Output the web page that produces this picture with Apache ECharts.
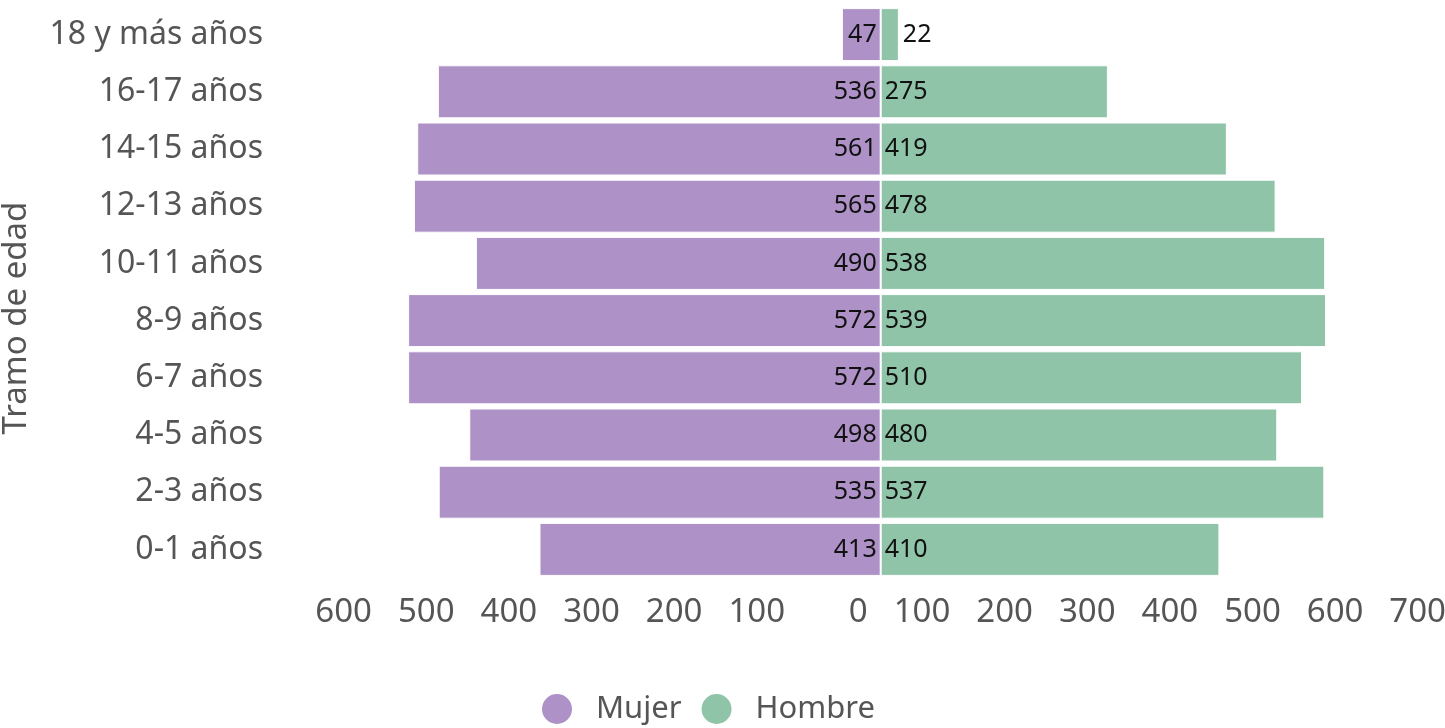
<!DOCTYPE html>
<html>
<head>
<meta charset="utf-8">
<script src="https://cdn.jsdelivr.net/npm/echarts@6/dist/echarts.min.js"></script>
<style>
  html, body { margin: 0; padding: 0; background: #fff; }
  #chart { width: 1445px; height: 728px; }
</style>
</head>
<body>
<div id="chart"></div>
<script>
// tramos de edad, de abajo hacia arriba
var categories = ["0-1 años", "2-3 años", "4-5 años", "6-7 años", "8-9 años",
  "10-11 años", "12-13 años", "14-15 años", "16-17 años", "18 y más años"];
var mujer = [413, 535, 498, 572, 572, 490, 565, 561, 536, 47];
var hombre = [410, 537, 480, 510, 539, 538, 478, 419, 275, 22];
var xTicks = { min: -600, max: 700, step: 100 };

var FONT = "'Noto Sans', sans-serif";
var chart = echarts.init(document.getElementById("chart"));

chart.setOption({
  textStyle: { fontFamily: FONT },
  grid: { left: 385, width: 1074, top: 6, height: 572, outerBoundsMode: "none", containLabel: false },
  legend: {
    top: 687,
    left: 535,
    icon: "circle",
    itemWidth: 32,
    itemHeight: 32,
    itemGap: 18,
    textStyle: { fontSize: 31, color: "#555", fontFamily: FONT, padding: [0, 0, 0, 18] },
    data: ["Mujer", "Hombre"]
  },
  xAxis: {
    type: "value",
    min: xTicks.min,
    max: xTicks.max,
    interval: xTicks.step,
    axisLine: { show: false },
    axisTick: { show: false },
    splitLine: { show: false },
    axisLabel: {
      fontSize: 33,
      color: "#555",
      margin: 18,
      align: "right",
      padding: [0, 13, 0, 0],
      formatter: function (v) { return Math.abs(v); }
    }
  },
  yAxis: {
    type: "category",
    data: categories,
    name: "Tramo de edad",
    nameLocation: "middle",
    nameGap: 352,
    nameTextStyle: { fontSize: 33, color: "#555", padding: [0, 52, 0, 0] },
    axisLine: { show: false },
    axisTick: { show: false },
    axisLabel: { fontSize: 32, color: "#555", margin: 122 }
  },
  series: [
    {
      name: "Mujer",
      type: "bar",
      stack: "pir",
      barWidth: 53,
      itemStyle: { color: "#ad91c7", borderColor: "#fff", borderWidth: 1 },
      label: {
        show: true,
        position: "insideRight",
        distance: 4,
        fontSize: 25,
        color: "#111",
        formatter: function (p) { return Math.abs(p.value); }
      },
      data: mujer.map(function (v) { return -v; })
    },
    {
      name: "Hombre",
      type: "bar",
      stack: "pir",
      barWidth: 53,
      itemStyle: { color: "#8fc4a8", borderColor: "#fff", borderWidth: 1 },
      label: {
        show: true,
        position: "insideLeft",
        distance: 4,
        fontSize: 25,
        color: "#111"
      },
      data: hombre.map(function (v) {
        // barras muy cortas: la etiqueta va fuera
        return v < 40 ? { value: v, label: { position: "right", distance: 4 } } : v;
      })
    }
  ]
});
</script>
</body>
</html>
